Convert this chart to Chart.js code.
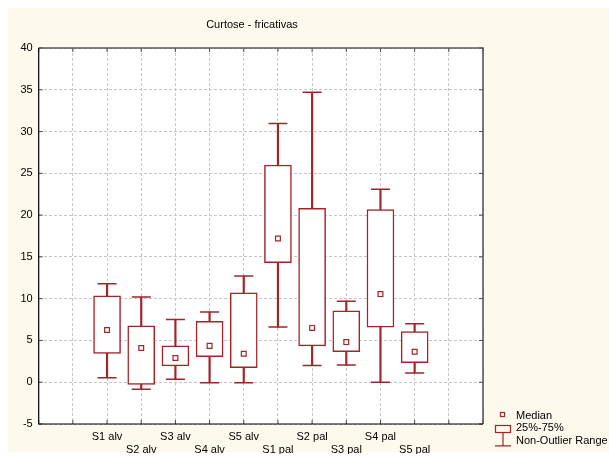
<!DOCTYPE html>
<html>
<head>
<meta charset="utf-8">
<script src="https://cdn.jsdelivr.net/npm/chart.js@4/dist/chart.umd.min.js"></script>
<style>
  html, body { margin: 0; padding: 0; background: #ffffff; }
  #wrap { width: 609px; height: 458px; position: relative; }
</style>
</head>
<body>
<div id="wrap"><canvas id="chart" width="609" height="458"></canvas></div>
<script>
// Kurtosis of fricatives per speaker and place of articulation
const categories = ['S1 alv', 'S2 alv', 'S3 alv', 'S4 alv', 'S5 alv',
                    'S1 pal', 'S2 pal', 'S3 pal', 'S4 pal', 'S5 pal'];
const whiskerLow  = [0.55, -0.85, 0.35, -0.05, -0.05, 6.6, 2.0, 2.05, 0.0, 1.1];
const quartile1   = [3.45, -0.25, 1.95, 3.05, 1.75, 14.3, 4.35, 3.65, 6.6, 2.35];
const medians     = [6.25, 4.1, 2.9, 4.35, 3.4, 17.2, 6.5, 4.8, 10.55, 3.65];
const quartile3   = [10.35, 6.75, 4.35, 7.3, 10.7, 26.0, 20.8, 8.55, 20.65, 6.05];
const whiskerHigh = [11.8, 10.2, 7.5, 8.4, 12.7, 30.95, 34.7, 9.7, 23.1, 7.0];
const yTicks = { min: -5, max: 40, step: 5 };
const legendLabels = ['Median', '25%-75%', 'Non-Outlier Range'];
const chartTitle = 'Curtose - fricativas';

// Each category sits on an integer slot of a linear axis (empty slots at both ends)
const slotOffset = 2;
const slotMax = categories.length + 3;

const RED = '#9f2529';
const FONT = '"Liberation Sans", Arial, sans-serif';

const boxData = categories.map((c, i) => ({ x: i + slotOffset, y: [quartile1[i], quartile3[i]] }));
const rangeData = categories.map((c, i) => ({ x: i + slotOffset, y: [whiskerLow[i], whiskerHigh[i]] }));
const capData = [];
categories.forEach((c, i) => {
  capData.push({ x: i + slotOffset, y: whiskerLow[i] });
  capData.push({ x: i + slotOffset, y: whiskerHigh[i] });
});
const medianData = categories.map((c, i) => ({ x: i + slotOffset, y: medians[i] }));

const backdrop = {
  id: 'backdrop',
  beforeDraw(chart) {
    const { ctx, chartArea: a } = chart;
    ctx.save();
    ctx.fillStyle = '#ffffff';
    ctx.fillRect(0, 0, chart.width, chart.height);
    ctx.fillStyle = '#fef9ed';
    ctx.fillRect(8, 8, chart.width - 8, 444);
    ctx.fillStyle = '#ffffff';
    ctx.fillRect(a.left, a.top, a.right - a.left, a.bottom - a.top);
    ctx.restore();
  }
};

const frame = {
  id: 'frame',
  afterDatasetsDraw(chart) {
    const { ctx, chartArea: a, scales } = chart;
    ctx.save();
    ctx.lineWidth = 1;
    ctx.strokeStyle = '#4a4a4a';
    // short inner ticks on all four sides
    scales.x.ticks.forEach(t => {
      const px = scales.x.getPixelForValue(t.value);
      ctx.beginPath();
      ctx.moveTo(px, a.bottom); ctx.lineTo(px, a.bottom - 4);
      ctx.moveTo(px, a.top); ctx.lineTo(px, a.top + 4);
      ctx.stroke();
    });
    scales.y.ticks.forEach(t => {
      const py = scales.y.getPixelForValue(t.value);
      ctx.beginPath();
      ctx.moveTo(a.left, py); ctx.lineTo(a.left + 4, py);
      ctx.moveTo(a.right, py); ctx.lineTo(a.right - 4, py);
      ctx.stroke();
    });
    ctx.strokeStyle = '#5a5a5a';
    ctx.lineWidth = 1.6;
    ctx.beginPath();
    ctx.moveTo(a.left, a.top); ctx.lineTo(a.right, a.top); ctx.lineTo(a.right, a.bottom);
    ctx.stroke();
    ctx.strokeStyle = '#000000';
    ctx.lineWidth = 1.2;
    ctx.beginPath();
    ctx.moveTo(a.left, a.top); ctx.lineTo(a.left, a.bottom); ctx.lineTo(a.right, a.bottom);
    ctx.stroke();
    ctx.restore();
  }
};

const titleAndLegend = {
  id: 'titleAndLegend',
  afterDraw(chart) {
    const { ctx } = chart;
    ctx.save();
    ctx.fillStyle = '#000000';
    ctx.font = '11px ' + FONT;
    ctx.textAlign = 'center';
    ctx.textBaseline = 'middle';
    ctx.fillText(chartTitle, 252, 25);

    // legend symbols
    ctx.strokeStyle = RED;
    ctx.lineWidth = 1.2;
    ctx.fillStyle = '#ffffff';
    ctx.fillRect(500.5, 412.5, 4, 4);
    ctx.strokeRect(500.5, 412.5, 4, 4);
    ctx.strokeRect(495.5, 425.5, 15, 7);
    ctx.beginPath();
    ctx.moveTo(503, 432.5); ctx.lineTo(503, 446);
    ctx.moveTo(495, 445.8); ctx.lineTo(511, 445.8);
    ctx.stroke();

    ctx.fillStyle = '#000000';
    ctx.textAlign = 'left';
    ctx.font = '11px ' + FONT;
    ctx.fillText(legendLabels[0], 516, 415.5);
    ctx.fillText(legendLabels[1], 516, 428);
    ctx.fillText(legendLabels[2], 516, 441);
    ctx.restore();
  }
};

new Chart(document.getElementById('chart'), {
  type: 'bar',
  data: {
    datasets: [
      {
        type: 'scatter',
        label: legendLabels[0],
        data: medianData,
        pointStyle: 'rect',
        pointRadius: 3.4,
        pointBackgroundColor: '#ffffff',
        pointBorderColor: RED,
        pointBorderWidth: 1.2,
        order: 0
      },
      {
        label: legendLabels[1],
        data: boxData,
        backgroundColor: '#ffffff',
        borderColor: RED,
        borderWidth: 1.5,
        borderSkipped: false,
        barThickness: 27,
        grouped: false,
        order: 1
      },
      {
        type: 'scatter',
        label: legendLabels[2],
        data: capData,
        pointStyle: 'line',
        pointRadius: 9.5,
        pointBorderColor: RED,
        pointBorderWidth: 1.5,
        order: 2
      },
      {
        label: legendLabels[2],
        data: rangeData,
        backgroundColor: RED,
        borderWidth: 0,
        barThickness: 1.5,
        grouped: false,
        order: 3
      }
    ]
  },
  options: {
    responsive: false,
    animation: false,
    events: [],
    layout: { padding: { left: 0, right: 126, top: 48, bottom: 4 } },
    plugins: {
      legend: { display: false },
      title: { display: false },
      tooltip: { enabled: false }
    },
    scales: {
      x: {
        type: 'linear',
        min: 0,
        max: slotMax,
        offset: false,
        afterFit(s) { s.height = 30; },
        grid: { color: '#c6c6c6', lineWidth: 1, drawTicks: false, offset: false },
        border: { display: false, dash: [3, 2] },
        ticks: {
          stepSize: 1,
          autoSkip: false,
          maxRotation: 0,
          padding: 7,
          color: '#000000',
          font: { family: FONT, size: 11, lineHeight: 1.12 },
          callback(v) {
            const i = v - slotOffset;
            if (i < 0 || i >= categories.length) return '';
            return i % 2 === 0 ? categories[i] : ['', categories[i]];
          }
        }
      },
      y: {
        min: yTicks.min,
        max: yTicks.max,
        afterFit(s) { s.width = 38.7; },
        grid: { color: '#c6c6c6', lineWidth: 1, drawTicks: false },
        border: { display: false, dash: [3, 2] },
        ticks: {
          stepSize: yTicks.step,
          padding: 6,
          color: '#000000',
          font: { family: FONT, size: 11 }
        }
      }
    }
  },
  plugins: [backdrop, frame, titleAndLegend]
});
</script>
</body>
</html>
